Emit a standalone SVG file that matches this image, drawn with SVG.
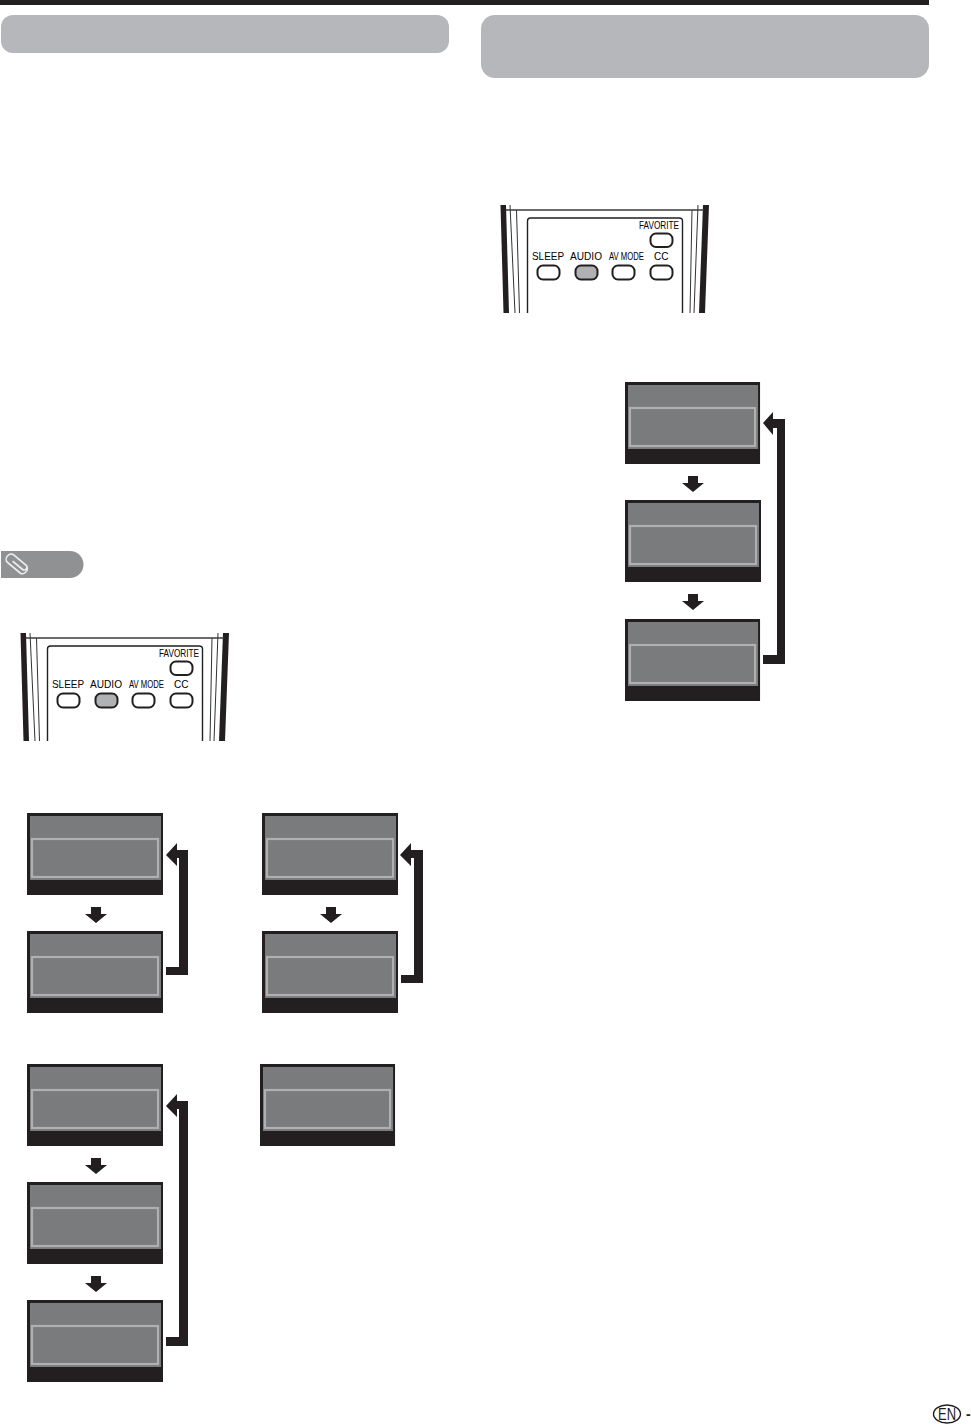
<svg xmlns="http://www.w3.org/2000/svg" xmlns:xlink="http://www.w3.org/1999/xlink" width="971" height="1424" viewBox="0 0 971 1424">
<style>
.k{fill:#231f20}
.g{fill:#797b7c}
.h{fill:none;stroke:#aeb0b1;stroke-width:2.200}
.hd{fill:#b6b7ba}
.thin{fill:none;stroke:#333;stroke-width:1}
.edge{fill:none;stroke:#231f20;stroke-width:1.400}
.btn{fill:#fff;stroke:#231f20;stroke-width:2}
.on{fill:#afb1b2}
.lbl{font-family:"Liberation Sans",Arial,sans-serif;font-size:10.500px;fill:#000}
</style>
<defs>
<g id="screen">
<rect class="k" width="136" height="82"/>
<rect class="g" x="3" y="3" width="131" height="64"/>
<rect class="h" x="5" y="26" width="126" height="38"/>
</g>
<polygon id="down" class="k" points="-5,0 5,0 5,7 11,7 0,16 -11,7 -5,7"/>
<g id="remote">
<polygon class="k" points="20.5,633 26,633 29,741 23.5,741"/>
<polygon class="k" points="223,633 229,633 225,741 219,741"/>
<path class="thin" d="M30 633L35 741M36.5 638L39.5 741M218 633L214 741M212 638L210 741"/>
<path d="M26 638H224" fill="none" stroke="#3a3a3a" stroke-width="1.600"/>
<path class="edge" d="M47.500 741V649Q47.500 646 50.500 646H199Q202.500 646 202.500 649V741"/>
<text class="lbl" x="159" y="657" textLength="40" lengthAdjust="spacingAndGlyphs">FAVORITE</text>
<text class="lbl" x="52" y="688" textLength="32" lengthAdjust="spacingAndGlyphs">SLEEP</text>
<text class="lbl" x="90" y="688" textLength="32" lengthAdjust="spacingAndGlyphs">AUDIO</text>
<text class="lbl" x="129" y="688" textLength="35" lengthAdjust="spacingAndGlyphs">AV MODE</text>
<text class="lbl" x="174" y="688" textLength="14.500" lengthAdjust="spacingAndGlyphs">CC</text>
<rect class="btn" x="170.500" y="661.500" width="22" height="13.500" rx="5.500"/>
<rect class="btn" x="57.500" y="693.500" width="22" height="14" rx="5.500"/>
<rect class="btn on" x="95.500" y="693.500" width="22" height="14" rx="5.500"/>
<rect class="btn" x="132.500" y="693.500" width="22" height="14" rx="5.500"/>
<rect class="btn" x="170.500" y="693.500" width="22" height="14" rx="5.500"/>
</g>
</defs>
<rect width="971" height="1424" fill="#fff"/>
<rect id="top-rule" class="k" width="929" height="5"/>
<rect id="heading-left" class="hd" x="1" y="15" width="448" height="38" rx="12"/>
<rect id="heading-right" class="hd" x="481" y="15" width="448" height="63" rx="14"/>
<g id="note-tag">
<path d="M1 551H70A13.500 13.500 0 0 1 70 578H1Z" fill="#8f9193"/>
<path transform="translate(17 564) rotate(40) scale(1.050 1.250)" d="M-5 .5H7.500A2.200 2.200 0 0 0 7.500 -3.900H-8A3.900 3.900 0 0 0 -8 3.900H8.500A4 4 0 0 0 10 -3" fill="none" stroke="#eceded" stroke-width="1.400"/>
</g>
<g id="remote-left"><use href="#remote"/></g>
<g id="remote-right"><use href="#remote" transform="translate(480 -428)"/></g>
<g id="screen-a1"><use href="#screen" x="27" y="813"/></g>
<g id="screen-a2"><use href="#screen" x="27" y="931"/></g>
<g id="screen-b1"><use href="#screen" x="262" y="813"/></g>
<g id="screen-b2"><use href="#screen" x="262" y="931"/></g>
<g id="screen-c1"><use href="#screen" x="27" y="1064"/></g>
<g id="screen-c2"><use href="#screen" x="27" y="1182"/></g>
<g id="screen-c3"><use href="#screen" x="27" y="1300"/></g>
<g id="screen-d1"><use href="#screen" transform="translate(260 1064) scale(.993 1)"/></g>
<g id="screen-e1"><use href="#screen" transform="translate(625 382) scale(.993 1)"/></g>
<g id="screen-e2"><use href="#screen" x="625" y="500"/></g>
<g id="screen-e3"><use href="#screen" transform="translate(625 619) scale(.993 1)"/></g>
<g id="connectors">
<use href="#down" x="96" y="907"/>
<use href="#down" x="331" y="907"/>
<use href="#down" x="96" y="1158"/>
<use href="#down" x="96" y="1276"/>
<use href="#down" x="693" y="476"/>
<use href="#down" x="693" y="594"/>
<polygon class="k" points="166,855 177,843 177,850 188,850 188,975 166,975 166,967 179,967 179,858 177,858 177,866"/>
<polygon class="k" points="400,855 411,843 411,850 423,850 423,983 401,983 401,975 414,975 414,858 411,858 411,866"/>
<polygon class="k" points="166,1106 177,1094 177,1101 188,1101 188,1346 166,1346 166,1337 179,1337 179,1109 177,1109 177,1117"/>
<polygon class="k" points="763,423 773,412 773,419 785,419 785,664 763,664 763,655 777,655 777,428 773,428 773,435"/>
</g>
<g id="page-mark">
<ellipse cx="947" cy="1414" rx="13.500" ry="9" fill="none" stroke="#231f20" stroke-width="1.400"/>
<text x="938" y="1420" font-family="'Liberation Sans',Arial,sans-serif" font-size="16" fill="#231f20" textLength="18" lengthAdjust="spacingAndGlyphs">EN</text>
<text x="966" y="1419" font-family="'Liberation Sans',Arial,sans-serif" font-size="14" font-weight="bold" fill="#231f20">-</text>
</g>
</svg>
